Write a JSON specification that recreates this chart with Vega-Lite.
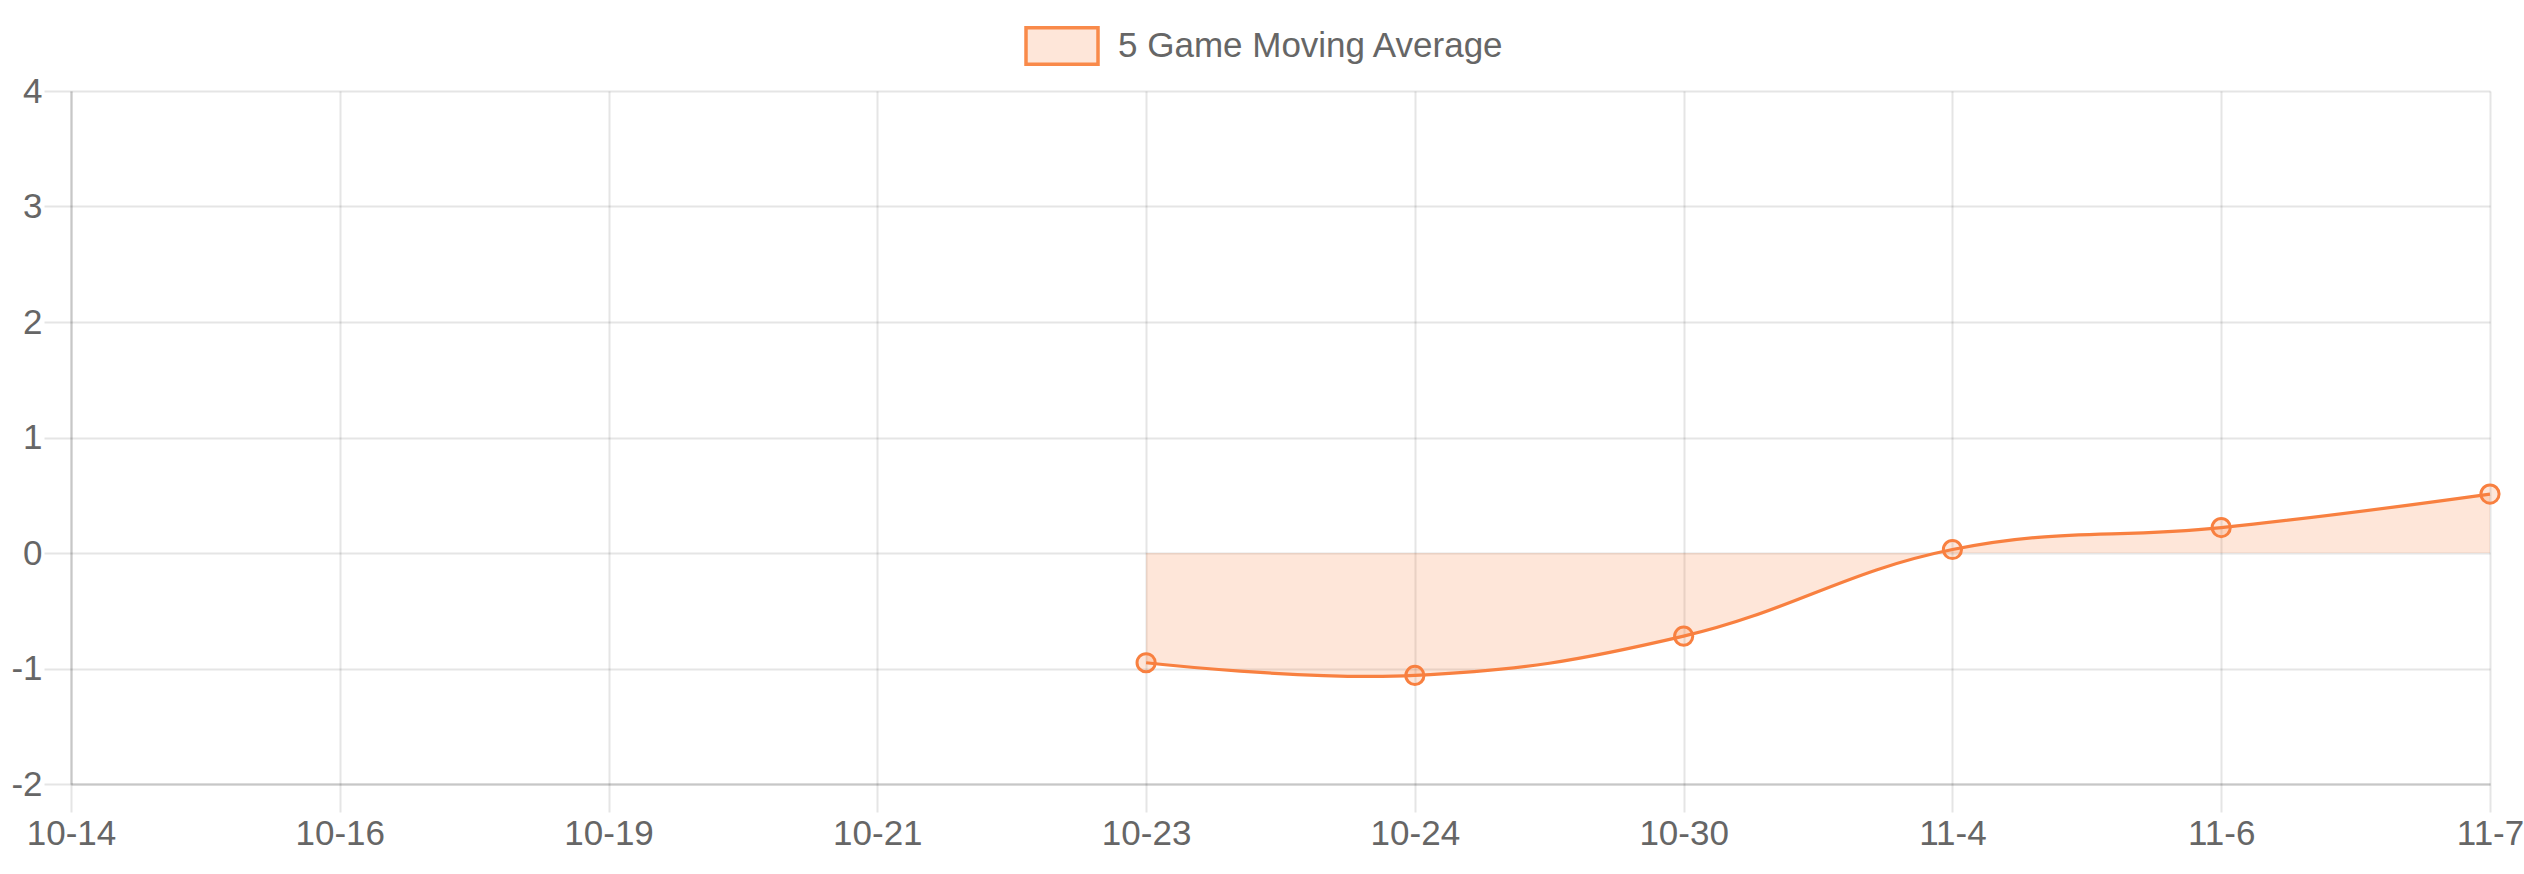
{
  "$schema": "https://vega.github.io/schema/vega-lite/v6.json",
  "width": 2419,
  "height": 693,
  "autosize": {"type": "none"},
  "padding": {"left": 71, "top": 91, "right": 34, "bottom": 90},
  "background": "white",
  "data": {
    "values": [
      {"date": "10-14", "avg": null},
      {"date": "10-16", "avg": null},
      {"date": "10-19", "avg": null},
      {"date": "10-21", "avg": null},
      {"date": "10-23", "avg": -0.95},
      {"date": "10-24", "avg": -1.06},
      {"date": "10-30", "avg": -0.72},
      {"date": "11-4", "avg": 0.03},
      {"date": "11-6", "avg": 0.22},
      {"date": "11-7", "avg": 0.51}
    ]
  },
  "encoding": {
    "x": {
      "field": "date",
      "type": "ordinal",
      "scale": {
        "type": "point",
        "padding": 0,
        "domain": ["10-14", "10-16", "10-19", "10-21", "10-23", "10-24", "10-30", "11-4", "11-6", "11-7"]
      },
      "axis": {
        "title": null,
        "labelAngle": 0,
        "grid": true,
        "tickSize": 28,
        "labelPadding": 4
      }
    }
  },
  "layer": [
    {
      "mark": {"type": "rule", "color": "#000", "opacity": 0.25, "strokeWidth": 2.5},
      "encoding": {"y": {"datum": 0}}
    },
    {
      "mark": {"type": "area", "interpolate": "cardinal", "tension": -0.2, "fillOpacity": 0.2},
      "encoding": {
        "y": {
          "field": "avg",
          "type": "quantitative",
          "scale": {"domain": [-2, 4], "nice": false, "zero": false},
          "axis": {
            "title": null,
            "values": [-2, -1, 0, 1, 2, 3, 4],
            "labelExpr": "'' + datum.value",
            "grid": true,
            "tickSize": 27,
            "labelPadding": 2
          }
        },
        "y2": {"datum": 0},
        "fill": {
          "datum": "5 Game Moving Average",
          "type": "nominal",
          "scale": {"range": ["#F88040"]},
          "legend": {
            "title": null,
            "orient": "none",
            "legendX": 953,
            "legendY": -83,
            "padding": 0,
            "symbolType": "M-1,-0.51H1V0.51H-1Z",
            "symbolSize": 5184,
            "labelOffset": 18,
            "labelLimit": 1000,
            "labelFontSize": 35,
            "labelColor": "#666",
            "labelFont": "Liberation Sans",
            "encode": {
              "symbols": {
                "update": {
                  "fillOpacity": {"value": 0.2},
                  "stroke": {"value": "#F98A4A"},
                  "strokeWidth": {"value": 3.5},
                  "opacity": {"value": 1}
                }
              }
            }
          }
        }
      }
    },
    {
      "mark": {"type": "line", "interpolate": "cardinal", "tension": -0.2, "color": "#F88040", "strokeWidth": 3.2},
      "encoding": {"y": {"field": "avg", "type": "quantitative"}}
    },
    {
      "mark": {"type": "point", "filled": true, "fill": "#F88040", "fillOpacity": 0.2, "stroke": "#F88040", "strokeWidth": 3, "strokeOpacity": 1, "size": 330, "opacity": 1},
      "encoding": {"y": {"field": "avg", "type": "quantitative"}}
    }
  ],
  "config": {
    "view": {"stroke": null},
    "font": "Liberation Sans",
    "axis": {
      "labelFont": "Liberation Sans",
      "labelFontSize": 35,
      "labelColor": "#666",
      "gridColor": "#000",
      "gridOpacity": 0.1,
      "gridWidth": 2,
      "tickColor": "#000",
      "tickOpacity": 0.1,
      "tickWidth": 2,
      "domainColor": "#000",
      "domainOpacity": 0.13,
      "domainWidth": 2.5
    }
  }
}
